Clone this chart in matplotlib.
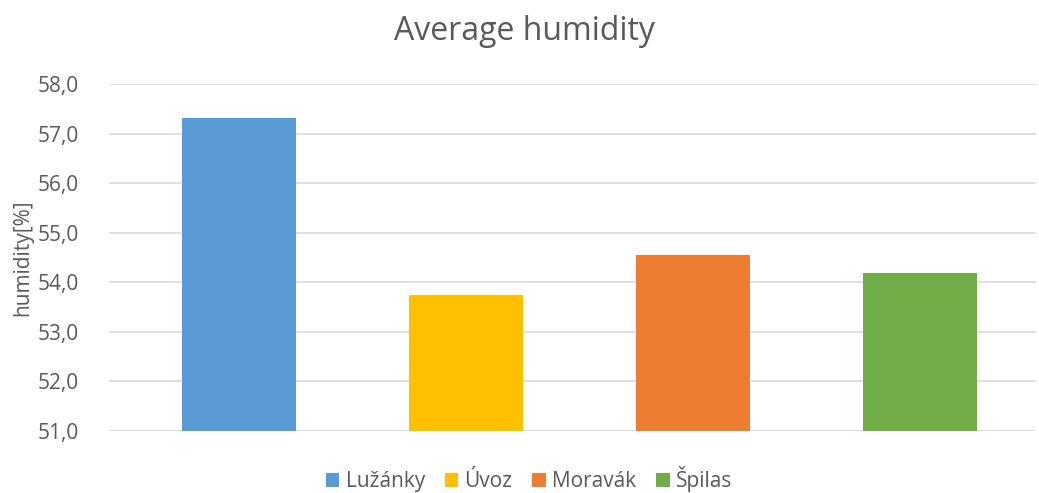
import numpy as np
import matplotlib.pyplot as plt
from matplotlib.patches import Patch

plt.rcParams.update({
    "font.family": ["Open Sans", "DejaVu Sans"],
    "text.color": "#595959",
    "xtick.color": "#595959",
    "ytick.color": "#595959",
})

stations = ["Lužánky", "Úvoz", "Moravák", "Špilas"]
humidity = [57.31, 53.74, 54.55, 54.19]
colors = ["#5B9BD5", "#FFC000", "#ED7D31", "#70AD47"]
yticks = np.arange(51, 58.5, 1.0)

fig = plt.figure(figsize=(10.39, 4.93), dpi=100)
ax = fig.add_axes([109/1039, 1 - 431/493, (1036 - 109)/1039, (431 - 84)/493])

x = np.arange(len(stations))
ax.bar(x, [h - 51 for h in humidity], bottom=51, width=0.5, color=colors, zorder=3)

ax.set_ylim(51, 58)
ax.set_xlim(-0.573, 3.51)
ax.set_yticks(yticks)
ax.set_yticklabels([f"{v:.1f}".replace(".", ",") for v in yticks], fontsize=15)
ax.set_xticks([])
ax.grid(axis="y", color="#d9d9d9", linewidth=1.2, zorder=0)
ax.tick_params(axis="y", length=0, pad=22)
for s in ax.spines.values():
    s.set_visible(False)

ax.set_ylabel("humidity[%]", fontsize=15, color="#595959", labelpad=3)
fig.text(0.505, 1 - 31/493, "Average humidity", fontsize=23, ha="center", va="center",
         color="#595959")

handles = [Patch(facecolor=c, label=s) for c, s in zip(colors, stations)]
fig.legend(handles=handles, loc="center", bbox_to_anchor=(529/1039, 1 - 479/493), ncol=4,
           frameon=False, fontsize=15, handlelength=0.65, handleheight=0.65,
           handletextpad=0.3, columnspacing=0.95, labelcolor="#595959",
           borderpad=0.2)

plt.savefig("out.png", dpi=100)
